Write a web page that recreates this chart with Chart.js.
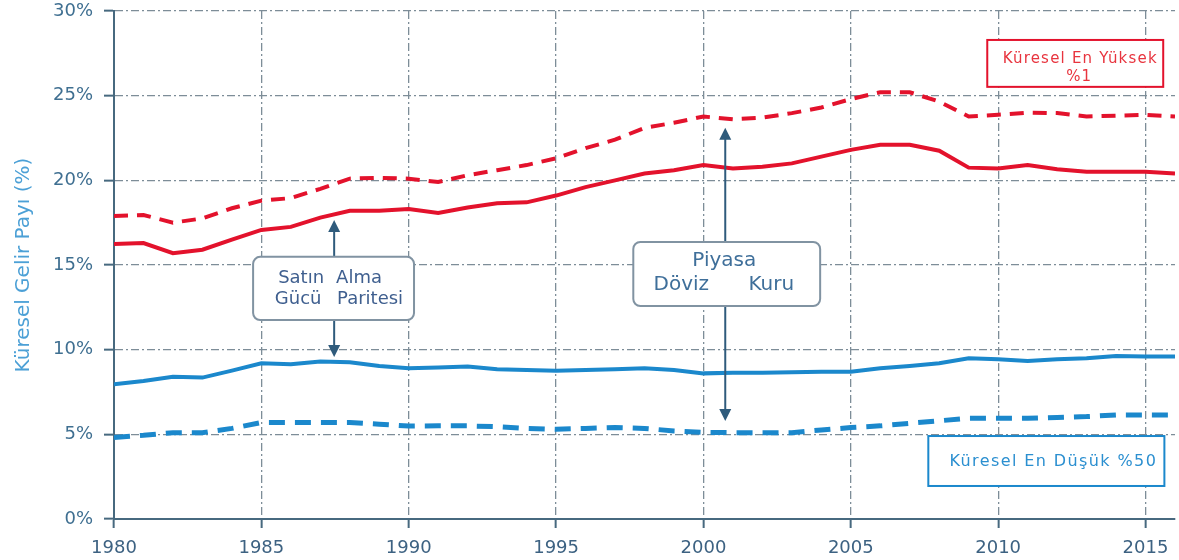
<!DOCTYPE html>
<html>
<head>
<meta charset="utf-8">
<script src="https://cdn.jsdelivr.net/npm/chart.js@4/dist/chart.umd.min.js"></script>
<style>
  html, body { margin: 0; padding: 0; background: #ffffff; }
  #wrap { width: 1179px; height: 560px; }
</style>
</head>
<body>
<div id="wrap"><canvas id="shareChart" width="1179" height="560"></canvas></div>
<script>
// Years on the x axis
const years = [1980, 1981, 1982, 1983, 1984, 1985, 1986, 1987, 1988, 1989,
               1990, 1991, 1992, 1993, 1994, 1995, 1996, 1997, 1998, 1999,
               2000, 2001, 2002, 2003, 2004, 2005, 2006, 2007, 2008, 2009,
               2010, 2011, 2012, 2013, 2014, 2015, 2016];

// Top 1% share - purchasing power parity (solid) and market exchange rate (dashed)
const top1Ppp = [16.24, 16.3, 15.7, 15.9, 16.5, 17.07, 17.25, 17.8, 18.2, 18.2,
                 18.3, 18.07, 18.4, 18.65, 18.7, 19.1, 19.6, 20.0, 20.4, 20.6,
                 20.9, 20.7, 20.8, 21.0, 21.4, 21.8, 22.1, 22.1, 21.75, 20.75,
                 20.7, 20.9, 20.65, 20.5, 20.5, 20.5, 20.4];
const top1Mer = [17.9, 17.95, 17.5, 17.75, 18.35, 18.8, 18.95, 19.5, 20.1, 20.15,
                 20.1, 19.9, 20.3, 20.6, 20.9, 21.3, 21.9, 22.4, 23.1, 23.4,
                 23.77, 23.6, 23.7, 23.97, 24.3, 24.8, 25.2, 25.2, 24.65, 23.77,
                 23.87, 24.0, 23.97, 23.77, 23.82, 23.87, 23.77];

// Bottom 50% share
const bottom50Ppp = [7.95, 8.15, 8.4, 8.35, 8.76, 9.2, 9.14, 9.3, 9.26, 9.04,
                     8.9, 8.95, 9.0, 8.84, 8.8, 8.76, 8.8, 8.84, 8.9, 8.8,
                     8.6, 8.64, 8.64, 8.66, 8.7, 8.7, 8.9, 9.04, 9.2, 9.49,
                     9.43, 9.33, 9.43, 9.49, 9.63, 9.6, 9.6];
const bottom50Mer = [4.82, 4.94, 5.1, 5.1, 5.35, 5.7, 5.7, 5.7, 5.7, 5.6,
                     5.49, 5.5, 5.5, 5.45, 5.35, 5.3, 5.35, 5.4, 5.35, 5.2,
                     5.12, 5.1, 5.1, 5.1, 5.26, 5.4, 5.5, 5.65, 5.8, 5.95,
                     5.95, 5.95, 6.0, 6.05, 6.14, 6.14, 6.14];

const yTicks = [0, 5, 10, 15, 20, 25, 30];
const xTicks = [1980, 1985, 1990, 1995, 2000, 2005, 2010, 2015];

const RED = '#e3122c';
const BLUE = '#1b88cc';
const GRID = '#7d8d98';
const AXIS = '#47697f';
const ARROW = '#2f5b7c';
const FONT = '"DejaVu Sans", Verdana, sans-serif';

function toPoints(values) {
    return values.map((v, i) => ({ x: years[i], y: v }));
}

// Annotation boxes and arrows, positioned in data units
const annotationPlugin = {
    id: 'shareAnnotations',
    afterDatasetsDraw(chart) {
        const ctx = chart.ctx;
        const xs = chart.scales.x;
        const ys = chart.scales.y;
        const px = v => xs.getPixelForValue(v);
        const py = v => ys.getPixelForValue(v);

        function arrow(x, yFrom, yTo) {
            const X = px(x), Y1 = py(yFrom), Y2 = py(yTo);
            const dir = Y2 < Y1 ? 1 : -1;
            ctx.save();
            ctx.strokeStyle = ARROW;
            ctx.fillStyle = ARROW;
            ctx.lineWidth = 2;
            ctx.beginPath();
            ctx.moveTo(X, Y1);
            ctx.lineTo(X, Y2 + dir * 10);
            ctx.stroke();
            ctx.beginPath();
            ctx.moveTo(X, Y2);
            ctx.lineTo(X - 6, Y2 + dir * 12);
            ctx.lineTo(X + 6, Y2 + dir * 12);
            ctx.closePath();
            ctx.fill();
            ctx.restore();
        }

        function roundBox(x1, y1, x2, y2) {
            const L = px(x1), T = py(y1), R = px(x2), B = py(y2);
            ctx.save();
            ctx.beginPath();
            ctx.roundRect(L, T, R - L, B - T, 7);
            ctx.fillStyle = '#ffffff';
            ctx.fill();
            ctx.strokeStyle = '#8193a2';
            ctx.lineWidth = 2;
            ctx.stroke();
            ctx.restore();
            return { L, T, R, B };
        }

        function text(str, x, y, color, size, align, spacing) {
            ctx.save();
            ctx.fillStyle = color;
            ctx.font = size + 'px ' + FONT;
            ctx.textAlign = align || 'center';
            ctx.textBaseline = 'middle';
            if (spacing) ctx.letterSpacing = spacing;
            ctx.fillText(str, x, y);
            ctx.restore();
        }

        // Purchasing power parity arrows
        arrow(1987.47, 15.48, 17.66);
        arrow(1987.47, 11.75, 9.57);
        const b1 = roundBox(1984.72, 15.48, 1990.18, 11.75);
        text('Satın', b1.L + 48, b1.T + 21, '#3f5f8f', 18);
        text('Gücü', b1.L + 45, b1.T + 42, '#3f5f8f', 18);
        text('Alma', b1.L + 83, b1.T + 21, '#3f5f8f', 18, 'left');
        text('Paritesi', b1.L + 84, b1.T + 42, '#3f5f8f', 18, 'left');

        // Market exchange rate arrows
        arrow(2000.74, 16.36, 23.1);
        arrow(2000.74, 12.58, 5.79);
        const b2 = roundBox(1997.62, 16.36, 2003.96, 12.58);
        text('Piyasa', b2.L + 91, b2.T + 19, '#3f6f9a', 20);
        text('Döviz', b2.L + 48, b2.T + 43, '#3f6f9a', 20);
        text('Kuru', b2.L + 138, b2.T + 43, '#3f6f9a', 20);

        // Series labels
        ctx.save();
        ctx.lineWidth = 2;
        let L = px(2009.63), T = py(28.29), R = px(2015.6), B = py(25.52);
        ctx.fillStyle = '#ffffff';
        ctx.fillRect(L, T, R - L, B - T);
        ctx.strokeStyle = RED;
        ctx.strokeRect(L, T, R - L, B - T);
        text('Küresel En Yüksek', (L + R) / 2 + 5, T + 19, '#e8343e', 15, 'center', '1.2px');
        text('%1', (L + R) / 2 + 4, T + 37, '#e8343e', 15, 'center', '1px');

        L = px(2007.63); T = py(4.9); R = px(2015.64); B = py(1.95);
        ctx.fillStyle = '#ffffff';
        ctx.fillRect(L, T, R - L, B - T);
        ctx.strokeStyle = BLUE;
        ctx.strokeRect(L, T, R - L, B - T);
        text('Küresel En Düşük %50', (L + R) / 2 + 7, (T + B) / 2 + 1, '#2b8fd0', 16, 'center', '1.4px');
        ctx.restore();
    }
};

const ctx = document.getElementById('shareChart').getContext('2d');
const shareChart = new Chart(ctx, {
    type: 'line',
    data: {
        datasets: [{
            label: 'Küresel En Yüksek %1 (PPP)',
            data: toPoints(top1Ppp),
            borderColor: RED,
            borderWidth: 4,
            pointRadius: 0,
            tension: 0
        }, {
            label: 'Küresel En Yüksek %1 (MER)',
            data: toPoints(top1Mer),
            borderColor: RED,
            borderWidth: 4,
            borderDash: [14, 9],
            pointRadius: 0,
            tension: 0
        }, {
            label: 'Küresel En Düşük %50 (PPP)',
            data: toPoints(bottom50Ppp),
            borderColor: BLUE,
            borderWidth: 4,
            pointRadius: 0,
            tension: 0
        }, {
            label: 'Küresel En Düşük %50 (MER)',
            data: toPoints(bottom50Mer),
            borderColor: BLUE,
            borderWidth: 5,
            borderDash: [16, 10],
            pointRadius: 0,
            tension: 0
        }]
    },
    options: {
        responsive: false,
        animation: false,
        layout: {
            padding: { top: 11, right: 4, left: 0, bottom: 0 }
        },
        plugins: {
            legend: { display: false },
            tooltip: { enabled: false }
        },
        scales: {
            x: {
                type: 'linear',
                min: 1980,
                max: 2016,
                afterBuildTicks: function(scale) {
                    scale.ticks = xTicks.map(v => ({ value: v }));
                },
                afterFit: function(scale) {
                    scale.height = 41;
                    scale.paddingRight = 0;
                },
                grid: {
                    color: GRID,
                    lineWidth: 1.3,
                    tickColor: AXIS,
                    tickLength: 9,
                    tickWidth: 2
                },
                border: {
                    color: AXIS,
                    width: 2,
                    dash: [8, 3, 2, 3]
                },
                ticks: {
                    color: '#3d6282',
                    padding: 10,
                    maxRotation: 0,
                    font: { family: FONT, size: 18 },
                    callback: function(value) {
                        return String(value);
                    }
                }
            },
            y: {
                min: 0,
                max: 30,
                afterBuildTicks: function(scale) {
                    scale.ticks = yTicks.map(v => ({ value: v }));
                },
                afterFit: function(scale) {
                    scale.width = 114;
                    scale.paddingTop = 0;
                    scale.paddingBottom = 0;
                },
                title: {
                    display: true,
                    text: 'Küresel Gelir Payı (%)',
                    color: '#4ca0d6',
                    padding: { top: 12, bottom: 0 },
                    font: { family: FONT, size: 20 }
                },
                grid: {
                    color: GRID,
                    lineWidth: 1.3,
                    tickColor: AXIS,
                    tickLength: 10,
                    tickWidth: 2
                },
                border: {
                    color: AXIS,
                    width: 2,
                    dash: [8, 3, 2, 3]
                },
                ticks: {
                    color: '#3f6f91',
                    padding: 11,
                    font: { family: FONT, size: 18 },
                    callback: function(value) {
                        return value + '%';
                    }
                }
            }
        }
    },
    plugins: [annotationPlugin]
});
</script>
</body>
</html>
